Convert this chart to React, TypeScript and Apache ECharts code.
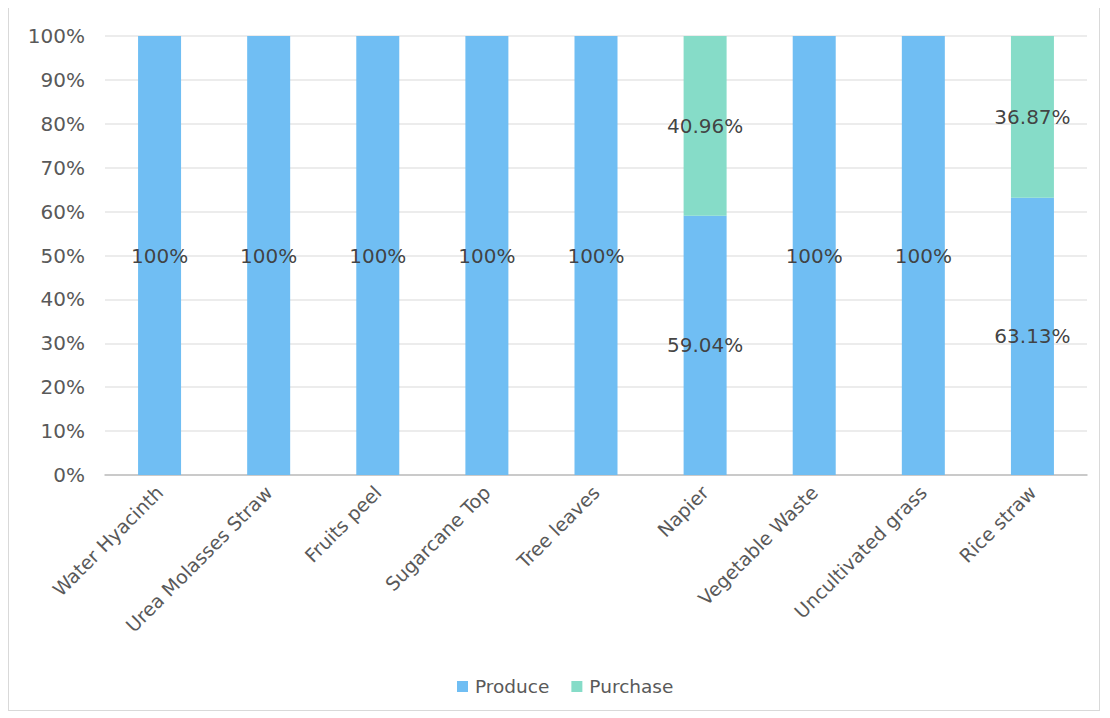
import React, { useEffect, useRef } from "react";
import * as echarts from "echarts";

const categories = ["Water Hyacinth", "Urea Molasses Straw", "Fruits peel", "Sugarcane Top", "Tree leaves", "Napier", "Vegetable Waste", "Uncultivated grass", "Rice straw"];
const produce = [100, 100, 100, 100, 100, 59.04, 100, 100, 63.13];
const purchase = [0, 0, 0, 0, 0, 40.96, 0, 0, 36.87];
const produceLabels = ["100%", "100%", "100%", "100%", "100%", "59.04%", "100%", "100%", "63.13%"];
const purchaseLabels = ["", "", "", "", "", "40.96%", "", "", "36.87%"];

const FONT = "'DejaVu Sans', sans-serif";

export default function App() {
  const ref = useRef<HTMLDivElement>(null);
  useEffect(() => {
    const chart = echarts.init(ref.current!, null, { renderer: "svg" });
    chart.setOption({
      animation: false,
      textStyle: { fontFamily: FONT },
      grid: { left: 96, right: 12, top: 28, bottom: 235, containLabel: false },
      legend: {
        bottom: 9,
        left: 443,
        itemWidth: 11,
        itemHeight: 11,
        itemGap: 22,
        icon: "rect",
        textStyle: { fontSize: 18.5, color: "#595959", fontFamily: FONT, padding: [0, 0, 0, 2] },
        data: ["Produce", "Purchase"],
      },
      xAxis: {
        type: "category",
        data: categories,
        axisLine: { lineStyle: { color: "#bfbfbf", width: 1.5 } },
        axisTick: { show: false },
        axisLabel: { rotate: 45, interval: 0, fontSize: 19, color: "#595959", margin: 14, fontFamily: FONT },
      },
      yAxis: {
        type: "value",
        min: 0,
        max: 100,
        interval: 10,
        axisLine: { show: false },
        axisTick: { show: false },
        splitLine: { lineStyle: { color: "#e6e6e6", width: 1.5 } },
        axisLabel: { formatter: "{value}%", fontSize: 20, color: "#595959", margin: 20, fontFamily: FONT },
      },
      series: [
        {
          name: "Produce",
          type: "bar",
          stack: "total",
          barWidth: 43,
          z: 1,
          itemStyle: { color: "#6bbcf3", opacity: 0.97 },
          label: {
            show: true,
            position: "inside",
            fontSize: 20,
            color: "#404040",
            fontFamily: FONT,
            formatter: (p: any) => produceLabels[p.dataIndex],
          },
          data: produce,
        },
        {
          name: "Purchase",
          type: "bar",
          stack: "total",
          barWidth: 43,
          z: 1,
          itemStyle: { color: "#82dbc6", opacity: 0.97 },
          label: {
            show: true,
            position: "inside",
            fontSize: 20,
            color: "#404040",
            fontFamily: FONT,
            formatter: (p: any) => purchaseLabels[p.dataIndex],
          },
          data: purchase,
        },
      ],
    });
    return () => chart.dispose();
  }, []);
  return (
    <div style={{ width: 1092, height: 704, border: "1px solid #d9d9d9", boxSizing: "border-box", margin: "-1px 0 0 0" }}>
      <div ref={ref} style={{ width: 1090, height: 702 }} />
    </div>
  );
}
